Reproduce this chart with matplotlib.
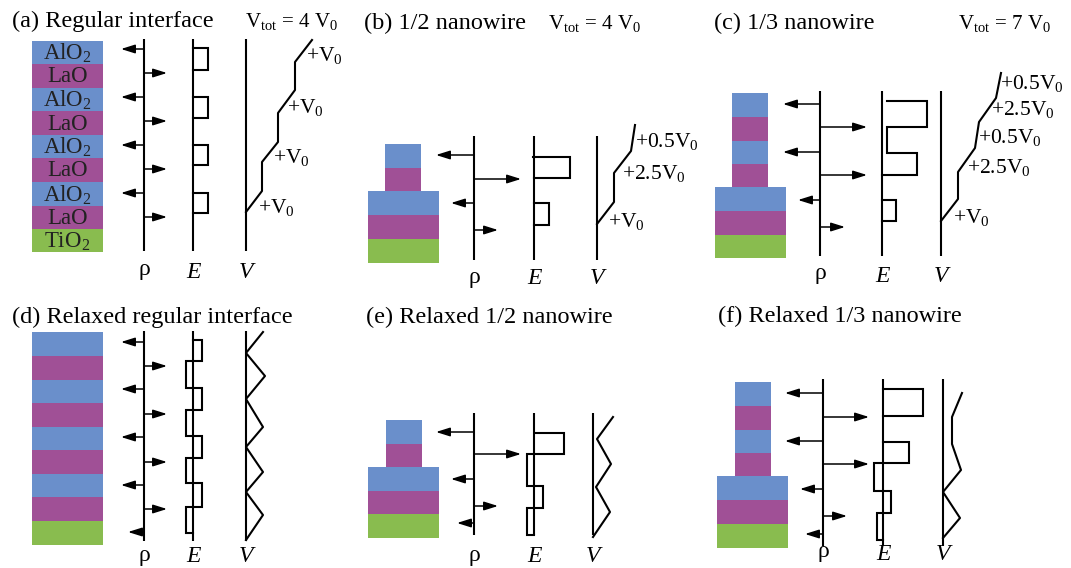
import matplotlib
matplotlib.use("Agg")
import matplotlib.pyplot as plt
from matplotlib.patches import Rectangle

plt.rcParams["font.family"] = ["Liberation Serif", "DejaVu Serif"]
plt.rcParams["mathtext.fontset"] = "custom"
plt.rcParams["mathtext.rm"] = "Liberation Serif"
plt.rcParams["mathtext.it"] = "Liberation Serif:italic"

# Everything below is in image pixels (x right, y down) of a 1071x568 canvas.
W, H = 1071, 568
FS = 15
TITLE_FS = 17.5
LAYER_FS = 16.5
AXLAB_FS = 17

LAYER_COLORS = {"AlO2": "#6a8fcb", "LaO": "#a05096", "TiO2": "#89bc4f"}
LAYER_TEXT = {"AlO2": r"$\mathregular{AlO_2}$", "LaO": "LaO", "TiO2": r"$\mathregular{TiO_2}$"}

REGULAR = ["AlO2", "LaO"] * 4 + ["TiO2"]
HALF_WIRE = ["AlO2", "LaO", "AlO2", "LaO", "TiO2"]
THIRD_WIRE = ["AlO2", "LaO"] * 3 + ["TiO2"]

# ---------------- (a) regular interface ----------------
A_TITLE = ("(a) Regular interface", 12, 21)
A_VTOT = (r"$\mathregular{V_{tot}}$ = 4 $\mathregular{V_0}$", 245, 21)
A_EDGES = [41, 64, 88, 111, 135, 158, 182, 206, 229, 252]
A_XSPAN = [(32, 103)] * 9
A_AX = (144, 193, 246)          # rho, E, V axis x
A_AXY = (39, 251)
A_ARROWS = [(49, 121), (73, 167), (97, 121), (121, 167),
            (145, 121), (169, 167), (193, 121), (217, 167)]
A_E = [([193, 208, 208, 193], [48, 48, 70, 70]),
       ([193, 208, 208, 193], [97, 97, 118, 118]),
       ([193, 208, 208, 193], [145, 145, 165, 165]),
       ([193, 208, 208, 193], [193, 193, 213, 213])]
A_V = ([246, 262, 262, 278, 278, 295, 295, 312],
       [212, 191, 162, 142, 113, 90, 62, 40])
A_VLAB = [("+V0", 258, 208), ("+V0", 273, 158), ("+V0", 287, 108), ("+V0", 306, 55)]
A_LABY = 270

# ---------------- (b) 1/2 nanowire ----------------
B_TITLE = ("(b) 1/2 nanowire", 364, 23)
B_VTOT = (r"$\mathregular{V_{tot}}$ = 4 $\mathregular{V_0}$", 548, 23)
B_EDGES = [144, 168, 191, 215, 239, 263]
B_XSPAN = [(385, 421)] * 2 + [(368, 439)] * 3
B_AX = (474, 534, 597)
B_AXY = (136, 260)
B_ARROWS = [(155, 436), (179, 521), (203, 451), (230, 498)]
B_E = [([533, 570, 570, 534], [157, 157, 178, 178]),
       ([534, 549, 549, 534], [203, 203, 225, 225])]
B_V = ([597, 614, 614, 631, 635], [224, 202, 173, 151, 125])
B_VLAB = [("+V0", 608, 221), ("+2.5V0", 622, 174), ("+0.5V0", 635, 142)]
B_LABY = 277

# ---------------- (c) 1/3 nanowire ----------------
C_TITLE = ("(c) 1/3 nanowire", 714, 23)
C_VTOT = (r"$\mathregular{V_{tot}}$ = 7 $\mathregular{V_0}$", 958, 23)
C_EDGES = [93, 117, 141, 164, 187, 211, 235, 258]
C_XSPAN = [(732, 768)] * 4 + [(715, 786)] * 3
C_AX = (820, 882, 941)
C_AXY = (91, 256)
C_ARROWS = [(104, 783), (127, 867), (152, 783), (175, 867), (200, 798), (227, 845)]
C_E = [([887, 927, 927, 887, 887, 917, 917, 882], [101, 101, 127, 127, 153, 153, 175, 175]),
       ([882, 896, 896, 882], [200, 200, 221, 221])]
C_V = ([941, 958, 958, 975, 979, 996, 1001], [221, 199, 172, 148, 122, 98, 73])
C_VLAB = [("+V0", 953, 218), ("+2.5V0", 967, 167), ("+0.5V0", 978, 138),
          ("+2.5V0", 991, 110), ("+0.5V0", 1000, 84)]
C_LABY = 274

# ---------------- (d) relaxed regular interface ----------------
D_TITLE = ("(d) Relaxed regular interface", 12, 317)
D_EDGES = [332, 356, 380, 403, 427, 450, 474, 497, 521, 545]
D_XSPAN = [(32, 103)] * 9
D_AX = (144, 193, 246)
D_AXY = (331, 541)
D_ARROWS = [(342, 121), (366, 167), (389, 121), (414, 167), (437, 121),
            (462, 167), (485, 121), (509, 167), (532, 128)]
D_E = [([193, 202, 202, 186, 186, 202, 202, 186, 186, 202, 202, 186, 186, 202, 202, 186, 186, 193],
        [340, 340, 361, 361, 388, 388, 410, 410, 436, 436, 458, 458, 483, 483, 507, 507, 533, 533])]
D_V = ([263, 246, 265, 246, 263, 246, 263, 246, 263, 246],
       [332, 353, 376, 399, 427, 447, 472, 492, 515, 540])
D_VLAB = []
D_LABY = 555

# ---------------- (e) relaxed 1/2 nanowire ----------------
E_TITLE = ("(e) Relaxed 1/2 nanowire", 366, 317)
E_EDGES = [420, 444, 467, 491, 514, 538]
E_XSPAN = [(386, 422)] * 2 + [(368, 439)] * 3
E_AX = (474, 534, 593)
E_AXY = (413, 535)
E_ARROWS = [(432, 436), (454, 521), (479, 451), (506, 498), (523, 457)]
E_E = [([535, 564, 564, 527, 527, 543, 543, 527, 527, 534],
        [433, 433, 454, 454, 486, 486, 508, 508, 535, 535])]
E_V = ([613, 597, 611, 596, 610, 593], [417, 439, 464, 487, 512, 537])
E_VLAB = []
E_LABY = 555

# ---------------- (f) relaxed 1/3 nanowire ----------------
F_TITLE = ("(f) Relaxed 1/3 nanowire", 718, 316)
F_EDGES = [382, 406, 430, 453, 476, 500, 524, 548]
F_XSPAN = [(735, 771)] * 4 + [(717, 788)] * 3
F_AX = (823, 883, 943)
F_AXY = (379, 546)
F_ARROWS = [(393, 785), (417, 869), (441, 785), (464, 869),
            (489, 800), (516, 847), (534, 805)]
F_E = [([883, 923, 923, 883], [389, 389, 416, 416]),
       ([883, 909, 909, 874, 874, 891, 891, 877, 877, 883],
        [442, 442, 463, 463, 491, 491, 513, 513, 540, 540])]
F_V = ([962, 952, 952, 961, 943, 960, 943], [393, 417, 444, 470, 492, 518, 538])
F_VLAB = []
F_LABY = 552


def vlabel(s):
    # "+2.5V0" -> "+2.5V" with subscript 0
    return r"$\mathregular{" + s[:-1] + "_0}$"


def draw_panel(ax, title, vtot, stack, edges, xspan, axx, axy, arrows,
               epaths, vpath, vlabs, laby, named):
    ax.text(title[1], title[2], title[0], fontsize=TITLE_FS, ha="left", va="center")
    if vtot is not None:
        ax.text(vtot[1], vtot[2], vtot[0], fontsize=FS, ha="left", va="center")
    for i, name in enumerate(stack):
        x0, x1 = xspan[i]
        y0, y1 = edges[i], edges[i + 1]
        ax.add_patch(Rectangle((x0, y0), x1 - x0, y1 - y0,
                               facecolor=LAYER_COLORS[name], edgecolor="none"))
        if named:
            ax.text((x0 + x1) / 2, (y0 + y1) / 2 + 1, LAYER_TEXT[name],
                    fontsize=LAYER_FS, ha="center", va="center", color="#222222")
    for x in axx:
        ax.plot([x, x], axy, color="black", lw=1.5, solid_capstyle="butt")
    for y, tip in arrows:
        ax.annotate("", xy=(tip, y), xytext=(axx[0], y),
                    arrowprops=dict(arrowstyle="-|>,head_length=0.7,head_width=0.22",
                                    color="black", lw=1.1, mutation_scale=12,
                                    shrinkA=0, shrinkB=0))
    for xs, ys in epaths:
        ax.plot(xs, ys, color="black", lw=1.5, solid_joinstyle="miter")
    ax.plot(vpath[0], vpath[1], color="black", lw=1.5)
    for s, x, y in vlabs:
        ax.text(x, y, vlabel(s), fontsize=FS + 0.5, ha="left", va="center")
    ax.text(axx[0], laby, "ρ", fontsize=AXLAB_FS, ha="center", va="center")
    ax.text(axx[1], laby + 2, "E", fontsize=AXLAB_FS, ha="center", va="center",
            fontstyle="italic")
    ax.text(axx[2], laby + 2, "V", fontsize=AXLAB_FS, ha="center", va="center",
            fontstyle="italic")


fig = plt.figure(figsize=(W / 100, H / 100), dpi=100)
ax = fig.add_axes([0, 0, 1, 1])
ax.set_xlim(0, W)
ax.set_ylim(H, 0)
ax.axis("off")

draw_panel(ax, A_TITLE, A_VTOT, REGULAR, A_EDGES, A_XSPAN, A_AX, A_AXY, A_ARROWS,
           A_E, A_V, A_VLAB, A_LABY, True)
draw_panel(ax, B_TITLE, B_VTOT, HALF_WIRE, B_EDGES, B_XSPAN, B_AX, B_AXY, B_ARROWS,
           B_E, B_V, B_VLAB, B_LABY, False)
draw_panel(ax, C_TITLE, C_VTOT, THIRD_WIRE, C_EDGES, C_XSPAN, C_AX, C_AXY, C_ARROWS,
           C_E, C_V, C_VLAB, C_LABY, False)
draw_panel(ax, D_TITLE, None, REGULAR, D_EDGES, D_XSPAN, D_AX, D_AXY, D_ARROWS,
           D_E, D_V, D_VLAB, D_LABY, False)
draw_panel(ax, E_TITLE, None, HALF_WIRE, E_EDGES, E_XSPAN, E_AX, E_AXY, E_ARROWS,
           E_E, E_V, E_VLAB, E_LABY, False)
draw_panel(ax, F_TITLE, None, THIRD_WIRE, F_EDGES, F_XSPAN, F_AX, F_AXY, F_ARROWS,
           F_E, F_V, F_VLAB, F_LABY, False)

fig.savefig("out.png", dpi=100)
